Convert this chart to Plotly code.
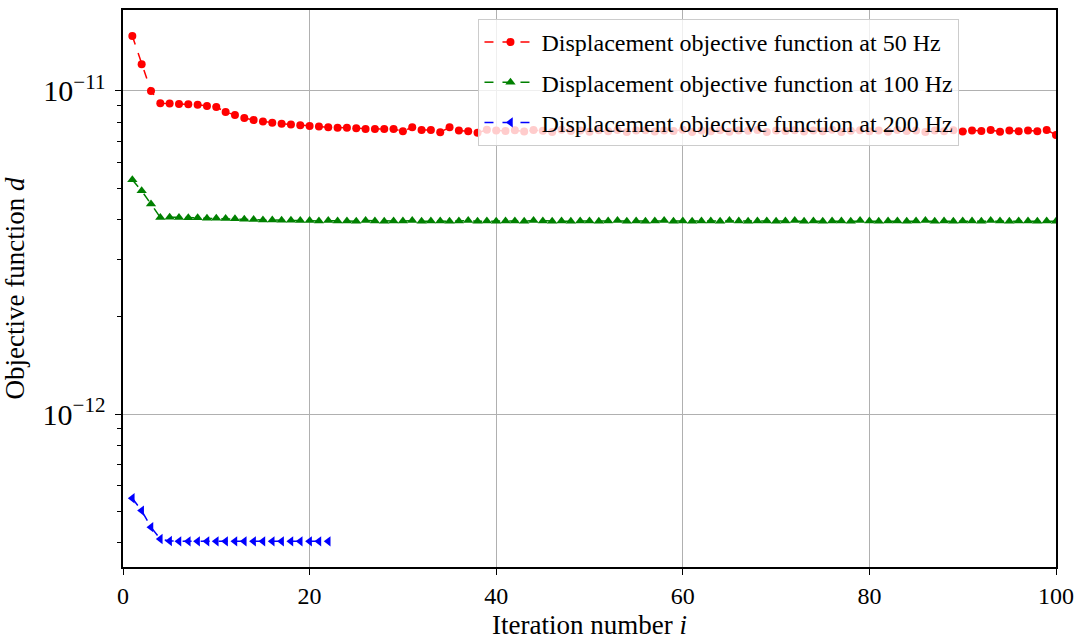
import plotly.graph_objects as go

# Iteration histories of the displacement objective function
iter_50 = list(range(1, 101))
obj_50 = [
    1.48e-11, 1.21e-11, 1.00e-11, 9.16e-12, 9.15e-12, 9.11e-12, 9.09e-12, 9.07e-12, 8.99e-12, 8.92e-12,
    8.61e-12, 8.43e-12, 8.25e-12, 8.13e-12, 8.04e-12, 7.98e-12, 7.92e-12, 7.87e-12, 7.83e-12, 7.79e-12,
    7.76e-12, 7.72e-12, 7.70e-12, 7.69e-12, 7.66e-12, 7.63e-12, 7.63e-12, 7.62e-12, 7.62e-12, 7.50e-12,
    7.72e-12, 7.57e-12, 7.57e-12, 7.45e-12, 7.72e-12, 7.54e-12, 7.50e-12, 7.42e-12, 7.58e-12, 7.55e-12,
    7.52e-12, 7.56e-12, 7.49e-12, 7.57e-12, 7.53e-12, 7.47e-12, 7.58e-12, 7.52e-12, 7.55e-12, 7.48e-12,
    7.56e-12, 7.51e-12, 7.57e-12, 7.46e-12, 7.54e-12, 7.56e-12, 7.49e-12, 7.55e-12, 7.52e-12, 7.58e-12,
    7.47e-12, 7.54e-12, 7.51e-12, 7.56e-12, 7.48e-12, 7.55e-12, 7.53e-12, 7.57e-12, 7.46e-12, 7.54e-12,
    7.52e-12, 7.56e-12, 7.49e-12, 7.55e-12, 7.51e-12, 7.58e-12, 7.47e-12, 7.53e-12, 7.56e-12, 7.50e-12,
    7.54e-12, 7.48e-12, 7.57e-12, 7.52e-12, 7.55e-12, 7.47e-12, 7.54e-12, 7.51e-12, 7.56e-12, 7.49e-12,
    7.55e-12, 7.52e-12, 7.57e-12, 7.48e-12, 7.54e-12, 7.51e-12, 7.55e-12, 7.50e-12, 7.57e-12, 7.31e-12,
]

iter_100 = list(range(1, 101))
obj_100 = [
    5.31e-12, 4.91e-12, 4.47e-12, 4.06e-12, 4.07e-12, 4.06e-12, 4.05e-12, 4.05e-12, 4.04e-12, 4.04e-12,
    4.03e-12, 4.02e-12, 4.01e-12, 4.00e-12, 3.99e-12, 3.99e-12, 3.98e-12, 3.98e-12, 3.97e-12, 3.97e-12,
    3.96e-12, 3.97e-12, 3.96e-12, 3.96e-12, 3.95e-12, 3.97e-12, 3.96e-12, 3.95e-12, 3.96e-12, 3.96e-12,
    3.97e-12, 3.95e-12, 3.96e-12, 3.96e-12, 3.95e-12, 3.96e-12, 3.97e-12, 3.95e-12, 3.96e-12, 3.95e-12,
    3.96e-12, 3.96e-12, 3.95e-12, 3.97e-12, 3.96e-12, 3.95e-12, 3.96e-12, 3.95e-12, 3.96e-12, 3.96e-12,
    3.95e-12, 3.96e-12, 3.97e-12, 3.95e-12, 3.96e-12, 3.95e-12, 3.96e-12, 3.97e-12, 3.95e-12, 3.96e-12,
    3.95e-12, 3.96e-12, 3.96e-12, 3.95e-12, 3.97e-12, 3.96e-12, 3.95e-12, 3.96e-12, 3.96e-12, 3.95e-12,
    3.96e-12, 3.97e-12, 3.95e-12, 3.96e-12, 3.95e-12, 3.96e-12, 3.96e-12, 3.95e-12, 3.97e-12, 3.96e-12,
    3.95e-12, 3.96e-12, 3.96e-12, 3.95e-12, 3.96e-12, 3.97e-12, 3.95e-12, 3.96e-12, 3.95e-12, 3.96e-12,
    3.96e-12, 3.95e-12, 3.97e-12, 3.96e-12, 3.95e-12, 3.96e-12, 3.96e-12, 3.95e-12, 3.96e-12, 3.95e-12,
]

iter_200 = list(range(1, 23))
obj_200 = [
    5.49e-13, 5.03e-13, 4.47e-13, 4.11e-13, 4.05e-13, 4.04e-13, 4.04e-13, 4.04e-13, 4.04e-13, 4.04e-13,
    4.04e-13, 4.04e-13, 4.04e-13, 4.04e-13, 4.04e-13, 4.04e-13, 4.04e-13, 4.04e-13, 4.04e-13, 4.04e-13,
    4.04e-13, 4.04e-13,
]

series = [
    ("Displacement objective function at 50 Hz", iter_50, obj_50, "red", "circle", 8),
    ("Displacement objective function at 100 Hz", iter_100, obj_100, "green", "triangle-up", 9),
    ("Displacement objective function at 200 Hz", iter_200, obj_200, "blue", "triangle-left", 9),
]

FONT = "Liberation Serif"

fig = go.Figure()
for name, x, y, color, symbol, size in series:
    fig.add_trace(go.Scatter(
        x=x, y=y, name=name, mode="lines+markers", legendgroup=name,
        line=dict(color=color, width=1.5, dash="dash"),
        marker=dict(color=color, symbol=symbol, size=size, line=dict(width=0)),
    ))

fig.update_layout(
    width=1079, height=640,
    margin=dict(l=123, r=23, t=10, b=73),
    plot_bgcolor="white", paper_bgcolor="white",
    font=dict(family=FONT, size=24, color="black"),
    showlegend=True,
    legend=dict(
        x=0.381, y=0.984, xanchor="left", yanchor="top",
        bgcolor="rgba(255,255,255,0.8)", bordercolor="#cccccc", borderwidth=1,
        font=dict(family=FONT, size=24),
        tracegroupgap=6, itemwidth=52,
    ),
)

fig.update_xaxes(
    range=[0, 100], tickvals=[0, 20, 40, 60, 80, 100], automargin=False,
    showgrid=True, gridcolor="#b0b0b0", gridwidth=1, zeroline=False,
    showline=True, linecolor="black", linewidth=1.5, mirror=True,
    ticks="outside", ticklen=6, tickcolor="black", tickwidth=1.2,
    ticklabelstandoff=0,
    tickfont=dict(family=FONT, size=24),
    title=dict(text="Iteration number <i>i</i>", font=dict(family=FONT, size=27), standoff=16),
)

fig.update_yaxes(
    type="log", range=[-12.473, -10.7495], dtick=1, exponentformat="power", automargin=False,
    showgrid=True, gridcolor="#b0b0b0", gridwidth=1, zeroline=False,
    showline=True, linecolor="black", linewidth=1.5, mirror=True,
    ticks="outside", ticklen=6, tickcolor="black", tickwidth=1.2,
    ticklabelstandoff=5,
    tickfont=dict(family=FONT, size=24),
    minor=dict(ticks="outside", ticklen=4, tickcolor="black", tickwidth=1, dtick="D1", showgrid=False),
    title=dict(text="Objective function <i>d</i>", font=dict(family=FONT, size=27), standoff=12),
)

fig.write_html("out.html")
